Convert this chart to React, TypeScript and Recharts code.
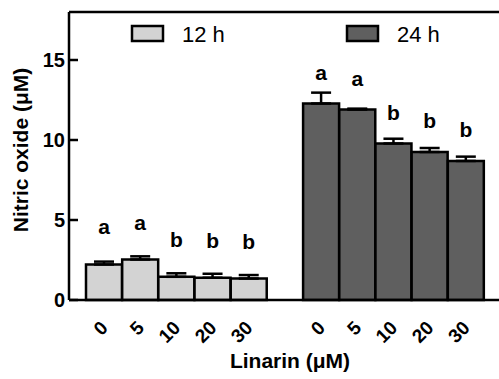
import { BarChart, Bar, XAxis, YAxis, ErrorBar, LabelList, Legend, ReferenceLine } from 'recharts';

const doses = ['0', '5', '10', '20', '30'];
const no12h = [2.22, 2.53, 1.45, 1.39, 1.34];
const sem12h = [0.18, 0.2, 0.22, 0.25, 0.22];
const letters12h = ['a', 'a', 'b', 'b', 'b'];
const no24h = [12.28, 11.9, 9.78, 9.25, 8.69];
const sem24h = [0.68, 0.06, 0.3, 0.25, 0.27];
const letters24h = ['a', 'a', 'b', 'b', 'b'];
const yTicks = [0, 5, 10, 15];

const LIGHT = '#d3d3d3';
const DARK = '#5f5f5f';
const FONT = 'Arial, "Liberation Sans", Helvetica, sans-serif';

// 12 h group, an empty slot, then the 24 h group
const data = [
  ...doses.map((d, i) => ({ dose: d, h12: no12h[i], e12: [0, sem12h[i]], l12: letters12h[i] })),
  { dose: '' },
  ...doses.map((d, i) => ({ dose: d, h24: no24h[i], e24: [0, sem24h[i]], l24: letters24h[i] })),
];

const XTick = (props: any) => {
  const { x, y, payload } = props;
  if (!payload || payload.value === '') return null;
  const ax = x + 5;
  const ay = y + 21;
  return (
    <text
      x={ax}
      y={ay}
      transform={`rotate(-45 ${ax} ${ay})`}
      textAnchor="end"
      fontFamily={FONT}
      fontWeight="bold"
      fontSize={19}
      fill="#000"
    >
      {payload.value}
    </text>
  );
};

const YTick = (props: any) => {
  const { x, y, payload } = props;
  return (
    <g>
      <line x1={x + 4} x2={x + 13} y1={y} y2={y} stroke="#000" strokeWidth={2.5} />
      <text x={x} y={y} dy="0.36em" textAnchor="end" fontFamily={FONT} fontWeight="bold" fontSize={20} fill="#000">
        {payload.value}
      </text>
    </g>
  );
};

const YTitle = (props: any) => {
  const { viewBox } = props;
  const cx = viewBox.x + 28;
  const cy = viewBox.y + viewBox.height / 2 - 6;
  return (
    <text
      x={cx}
      y={cy}
      transform={`rotate(-90 ${cx} ${cy})`}
      textAnchor="middle"
      fontFamily={FONT}
      fontWeight="bold"
      fontSize={21}
      fill="#000"
    >
      Nitric oxide (μM)
    </text>
  );
};

const XTitle = (props: any) => {
  const { viewBox } = props;
  return (
    <text
      x={viewBox.x + viewBox.width / 2 + 6}
      y={viewBox.y + 68}
      textAnchor="middle"
      fontFamily={FONT}
      fontWeight="bold"
      fontSize={21}
      fill="#000"
    >
      Linarin (μM)
    </text>
  );
};

const legendItems = [
  { name: '12 h', color: LIGHT, x: 132 },
  { name: '24 h', color: DARK, x: 347 },
];

const LegendBox = () => (
  <svg width={499} height={50}>
    {legendItems.map((it) => (
      <g key={it.name}>
        <rect x={it.x} y={26} width={31} height={15} fill={it.color} stroke="#000" strokeWidth={2.5} />
        <text x={it.x + 50} y={42} fontFamily={FONT} fontSize={22} fill="#000">
          {it.name}
        </text>
      </g>
    ))}
  </svg>
);

const Letter = (props: any) => {
  const { x, y, width, value } = props;
  if (!value) return null;
  return (
    <text x={x + width / 2} y={y} textAnchor="middle" fontFamily={FONT} fontWeight="bold" fontSize={21} fill="#000">
      {value}
    </text>
  );
};

export default function App() {
  return (
    <div style={{ position: 'absolute', left: 0, top: 0, background: '#fff' }}>
      <BarChart
        width={499}
        height={379}
        data={data}
        margin={{ top: 12, right: 0, bottom: 0, left: 0 }}
        barCategoryGap={0}
        barGap={0}
      >
        <XAxis
          dataKey="dose"
          height={79}
          tickLine={false}
          axisLine={{ stroke: '#000', strokeWidth: 2.5 }}
          tick={<XTick />}
          interval={0}
          padding={{ left: 17, right: 15 }}
          label={<XTitle />}
        />
        <YAxis
          width={69}
          domain={[0, 18]}
          ticks={yTicks}
          tickLine={false}
          tickSize={0}
          tickMargin={4}
          axisLine={{ stroke: '#000', strokeWidth: 2.5 }}
          tick={<YTick />}
          label={<YTitle />}
        />
        <ReferenceLine y={18} stroke="#000" strokeWidth={2.5} />
        <Legend
          layout="horizontal"
          verticalAlign="middle"
          wrapperStyle={{ top: 0, left: 0, width: 499, height: 50 }}
          content={<LegendBox />}
        />
        <Bar dataKey="h12" name="12 h" stackId="s" fill={LIGHT} stroke="#000" strokeWidth={2.5} isAnimationActive={false}>
          <ErrorBar dataKey="e12" width={10} stroke="#000" strokeWidth={2.5} />
          <LabelList dataKey="l12" position="top" offset={30} content={(p: any) => <Letter {...p} y={p.y - 30} />} />
        </Bar>
        <Bar dataKey="h24" name="24 h" stackId="s" fill={DARK} stroke="#000" strokeWidth={2.5} isAnimationActive={false}>
          <ErrorBar dataKey="e24" width={10} stroke="#000" strokeWidth={2.5} />
          <LabelList dataKey="l24" position="top" offset={24} content={(p: any) => <Letter {...p} y={p.y - 24} />} />
        </Bar>
      </BarChart>
    </div>
  );
}
